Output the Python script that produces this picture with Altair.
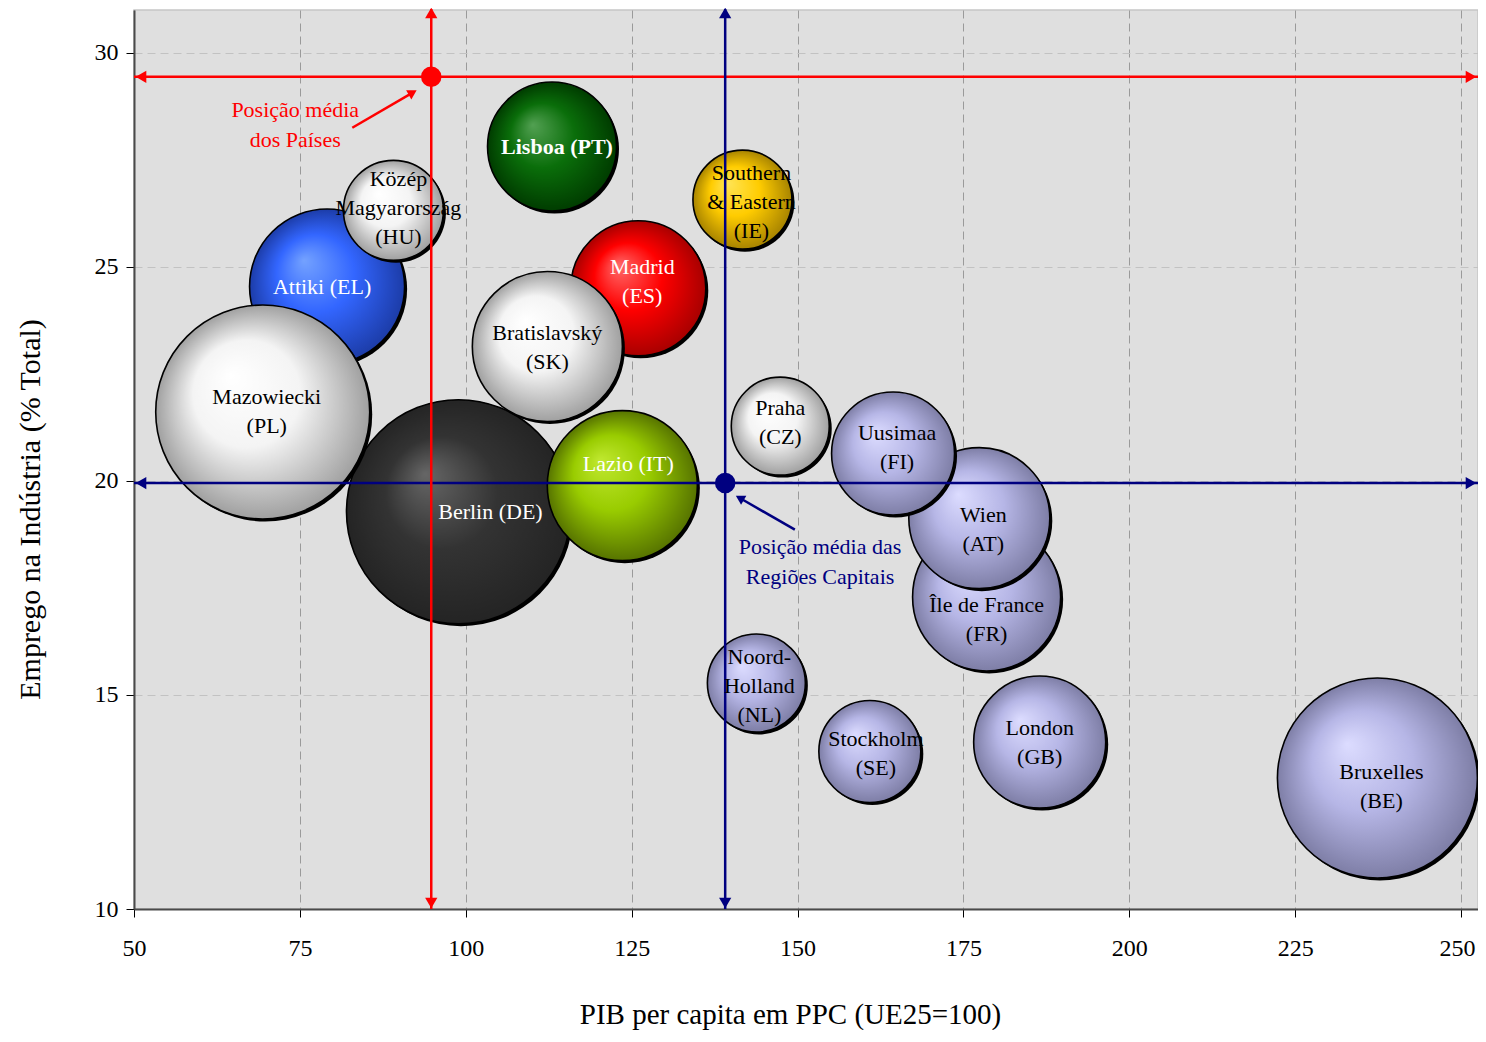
import altair as alt
import pandas as pd

# ---------------- dados ----------------
regioes = ["Lisboa (PT)", "Southern & Eastern (IE)", "Madrid (ES)", "Bratislavský (SK)",
           "Közép Magyarország (HU)", "Attiki (EL)", "Mazowiecki (PL)", "Berlin (DE)",
           "Lazio (IT)", "Praha (CZ)", "Uusimaa (FI)", "Wien (AT)", "Île de France (FR)",
           "Noord-Holland (NL)", "Stockholm (SE)", "London (GB)", "Bruxelles (BE)"]
rotulos = ["Lisboa (PT)", "Southern\n& Eastern\n(IE)", "Madrid\n(ES)", "Bratislavský\n(SK)",
           "Közép\nMagyarország\n(HU)", "Attiki (EL)", "Mazowiecki\n(PL)", "Berlin (DE)",
           "Lazio (IT)", "Praha\n(CZ)", "Uusimaa\n(FI)", "Wien\n(AT)", "Île de France\n(FR)",
           "Noord-\nHolland\n(NL)", "Stockholm\n(SE)", "London\n(GB)", "Bruxelles\n(BE)"]
pib = [113.0, 141.7, 126.0, 112.3, 89.1, 79.1, 69.4, 98.9, 123.6, 147.4, 164.4, 177.4,
       178.5, 143.8, 160.9, 186.5, 237.4]
emprego = [27.81, 26.57, 24.50, 23.14, 26.32, 24.54, 21.61, 19.28, 19.89, 21.28, 20.64,
           19.13, 17.29, 15.28, 13.68, 13.90, 13.06]
dimensao = [41.6, 24.5, 45.6, 56.3, 25.0, 60.1, 114.5, 125.4, 56.3, 24.0, 37.8, 49.7,
            54.8, 24.0, 26.0, 43.6, 100.0]

# posições médias
medias_tipo = ["Países", "Regiões Capitais"]
medias_pib = [94.8, 139.1]
medias_emprego = [29.44, 19.95]
medias_cor = ["#ff0000", "#000080"]

# notas (texto + seta)
notas_texto = ["Posição média\ndos Países", "Posição média das\nRegiões Capitais"]
notas_pib = [74.3, 153.4]
notas_emprego = [28.31, 18.10]
setas_pib = [82.9, 149.6]
setas_emprego = [28.25, 18.86]
setas_pib2 = [92.0, 141.3]
setas_emprego2 = [29.07, 19.60]
setas_angulo = [60, 300]

X_DOM = [50, 252.56]
Y_DOM = [10, 31]
W, H = 1344, 899
FONT = "Liberation Serif"
LH = 29  # altura de linha dos rótulos

df = pd.DataFrame({"regiao": regioes, "rotulo": rotulos, "pib": pib,
                   "emprego": emprego, "dimensao": dimensao})
df_med = pd.DataFrame({"tipo": medias_tipo, "pib": medias_pib,
                       "emprego": medias_emprego, "cor": medias_cor})
df_notas = pd.DataFrame({"texto": notas_texto, "pib": notas_pib,
                         "emprego": notas_emprego, "cor": medias_cor})
df_setas = pd.DataFrame({"pib": setas_pib, "emprego": setas_emprego,
                         "pib2": setas_pib2, "emprego2": setas_emprego2,
                         "cor": medias_cor, "angulo": setas_angulo})

# ---------------- estilos ----------------
def grad(c0, c1, c2):
    return {"gradient": "radial", "x1": 0.35, "y1": 0.33, "r1": 0,
            "x2": 0.5, "y2": 0.5, "r2": 0.5,
            "stops": [{"offset": 0, "color": c0}, {"offset": 0.5, "color": c1},
                      {"offset": 1, "color": c2}]}

LAV = ("#dcdcff", "#b6b6e6", "#7e7ea6")
BRANCO = ("#ffffff", "#f4f4f4", "#a0a0a0")
estilo = {
    "Lisboa (PT)": (("#52a052", "#0a6e0a", "#003c00"), "white", "bold", 5, 0),
    "Southern & Eastern (IE)": (("#ffe456", "#ffcc00", "#a88400"), "black", "normal", 9, 2),
    "Madrid (ES)": (("#ff6a6a", "#ff0000", "#a80000"), "white", "normal", 4, -7),
    "Bratislavský (SK)": (BRANCO, "black", "normal", 0, 1),
    "Közép Magyarország (HU)": (BRANCO, "black", "normal", 5, -2),
    "Attiki (EL)": (("#74a2ff", "#3366ff", "#1c3ca8"), "white", "normal", -5, 0),
    "Mazowiecki (PL)": (BRANCO, "black", "normal", 4, 0),
    "Berlin (DE)": (("#666666", "#333333", "#242424"), "white", "normal", 32, 0),
    "Lazio (IT)": (("#c0e830", "#99cc00", "#577400"), "white", "normal", 6, -22),
    "Praha (CZ)": (BRANCO, "black", "normal", 0, -4),
    "Uusimaa (FI)": (LAV, "black", "normal", 4, -6),
    "Wien (AT)": (LAV, "black", "normal", 4, 11),
    "Île de France (FR)": (LAV, "black", "normal", 0, 23),
    "Noord-Holland (NL)": (LAV, "black", "normal", 3, 3),
    "Stockholm (SE)": (LAV, "black", "normal", 6, 2),
    "London (GB)": (LAV, "black", "normal", 0, 0),
    "Bruxelles (BE)": (LAV, "black", "normal", 4, 8),
}
ordem = ["Attiki (EL)", "Közép Magyarország (HU)", "Berlin (DE)", "Mazowiecki (PL)",
         "Madrid (ES)", "Bratislavský (SK)", "Lazio (IT)", "Lisboa (PT)",
         "Southern & Eastern (IE)", "Praha (CZ)", "Île de France (FR)", "Wien (AT)",
         "Uusimaa (FI)", "Noord-Holland (NL)", "Stockholm (SE)", "London (GB)",
         "Bruxelles (BE)"]

# ---------------- escalas / eixos ----------------
xs = alt.Scale(domain=X_DOM, nice=False, zero=False)
ys = alt.Scale(domain=Y_DOM, nice=False, zero=False)
xaxis = alt.Axis(values=[50, 75, 100, 125, 150, 175, 200, 225, 250],
                 title="PIB per capita em PPC (UE25=100)",
                 grid=True, gridColor="#9a9a9a", gridDash=[8, 5], gridWidth=1,
                 labelPadding=19, labelFlush=False, labelOverlap=False,
                 labelOffset={"condition": {"test": "datum.value == 250", "value": -4},
                              "value": 0},
                 titleX=656, titleY=105, titleBaseline="middle", titleAlign="center",
                 titleFontSize=29)
yaxis = alt.Axis(values=[10, 15, 20, 25, 30], title="Emprego na Indústria (% Total)",
                 grid=True, gridColor="#c2c2c2", gridDash=[8, 5], gridWidth=1,
                 labelPadding=8, labelFlush=False, labelOverlap=False,
                 titleX=-104, titleY=499, titleAngle=-90,
                 titleBaseline="middle", titleAlign="center", titleFontSize=30)
X = alt.X("pib:Q", scale=xs, axis=xaxis)
Y = alt.Y("emprego:Q", scale=ys, axis=yaxis)
SIZE = alt.Size("dimensao:Q", scale=alt.Scale(domain=[0, 130], range=[0, 52000]), legend=None)

base = alt.Chart(df)
layers = []

# bolhas (sombra + bolha)
for r in ordem:
    cores = estilo[r][0]
    sel = base.transform_filter(alt.datum.regiao == r)
    layers.append(sel.mark_circle(color="black", opacity=1, xOffset=2.5, yOffset=2.5)
                  .encode(x=X, y=Y, size=SIZE))
    layers.append(sel.mark_circle(fill=grad(*cores), opacity=1, stroke="black",
                                  strokeWidth=1.6, strokeOpacity=1)
                  .encode(x=X, y=Y, size=SIZE))

# linhas de posição média
med = alt.Chart(df_med)
COR = alt.Color("cor:N", scale=None)
layers.append(med.mark_rule(strokeWidth=2.5).encode(y=Y, x=alt.value(0), x2=alt.value(W), color=COR))
layers.append(med.mark_rule(strokeWidth=2.5).encode(x=X, y=alt.value(-1), y2=alt.value(H), color=COR))
tri = dict(filled=True, opacity=1, size=150)
layers.append(med.mark_point(shape="triangle-left", **tri).encode(y=Y, x=alt.value(7), color=COR))
layers.append(med.mark_point(shape="triangle-right", **tri).encode(y=Y, x=alt.value(W - 7), color=COR))
layers.append(med.mark_point(shape="triangle-up", **tri).encode(x=X, y=alt.value(3), color=COR))
layers.append(med.mark_point(shape="triangle-down", **tri).encode(x=X, y=alt.value(H - 6), color=COR))
layers.append(med.mark_circle(opacity=1, size=420).encode(x=X, y=Y, color=COR))

# setas das notas
setas = alt.Chart(df_setas)
layers.append(setas.mark_rule(strokeWidth=2.5).encode(
    x=X, y=Y, x2="pib2:Q", y2="emprego2:Q", color=COR))
for i in range(len(setas_angulo)):
    layers.append(setas.transform_filter(alt.datum.angulo == setas_angulo[i])
                  .mark_point(shape="triangle-up", filled=True, opacity=1, size=110,
                              angle=setas_angulo[i])
                  .encode(x=alt.X("pib2:Q", scale=xs, axis=xaxis),
                          y=alt.Y("emprego2:Q", scale=ys, axis=yaxis), color=COR))

# textos das notas (recuo de meia linha para centrar o bloco de duas linhas)
layers.append(alt.Chart(df_notas).mark_text(font=FONT, fontSize=22, lineBreak="\n",
                                            lineHeight=30, align="center", baseline="middle",
                                            dy=-15)
              .encode(x=X, y=Y, text="texto:N", color=COR))

# rótulos das bolhas
rot_por_regiao = dict(zip(regioes, rotulos))
for r in ordem:
    _, tcor, peso, dx, dy = estilo[r]
    n = rot_por_regiao[r].count("\n") + 1
    layers.append(base.transform_filter(alt.datum.regiao == r)
                  .mark_text(font=FONT, fontSize=22, lineBreak="\n", lineHeight=LH,
                             align="center", baseline="middle", color=tcor,
                             fontWeight=peso, dx=dx, dy=dy - (n - 1) * LH / 2)
                  .encode(x=X, y=Y, text="rotulo:N"))

chart = (alt.layer(*layers)
         .properties(width=W, height=H, autosize=alt.AutoSizeParams(type="none"),
                     padding={"left": 126, "top": 2, "right": 0, "bottom": 121},
                     background="white")
         .configure_view(fill="#dfdfdf", stroke="#c6c6c6", strokeWidth=1.5)
         .configure_axis(labelFont=FONT, labelFontSize=24, labelColor="black",
                         titleFont=FONT, titleFontWeight="normal",
                         titleColor="black", tickColor="black", tickSize=8, tickWidth=1,
                         domainColor="#4a4a4a", domainWidth=2)
         .configure_text(font=FONT))

chart.save("out.html", embed_options={"renderer": "svg", "actions": False})
